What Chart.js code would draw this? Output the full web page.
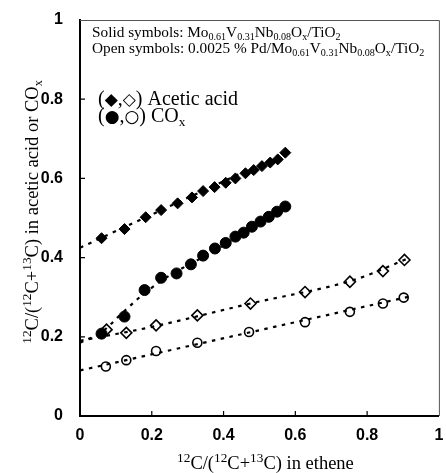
<!DOCTYPE html>
<html>
<head>
<meta charset="utf-8">
<script src="https://cdn.jsdelivr.net/npm/chart.js@4.4.1/dist/chart.umd.min.js"></script>
<style>
  html, body { margin: 0; padding: 0; background: #fff; }
  #wrap { width: 446px; height: 473px; }
</style>
</head>
<body>
<div id="wrap"><canvas id="isotope-chart"></canvas></div>
<script>
// 數據：估計值
const xTicks = [0, 0.2, 0.4, 0.6, 0.8, 1];
const yTicks = [0, 0.2, 0.4, 0.6, 0.8, 1];

// 實心符號：Mo0.61V0.31Nb0.08Ox/TiO2
const acidSolidX = [0.060, 0.124, 0.183, 0.226, 0.272, 0.312, 0.343, 0.375, 0.406, 0.433, 0.461, 0.484, 0.507, 0.530, 0.551, 0.572];
const acidSolidY = [0.449, 0.472, 0.502, 0.520, 0.537, 0.552, 0.568, 0.578, 0.589, 0.600, 0.613, 0.621, 0.631, 0.640, 0.648, 0.665];
const coxSolidX = [0.060, 0.124, 0.180, 0.226, 0.269, 0.309, 0.343, 0.376, 0.406, 0.433, 0.456, 0.479, 0.503, 0.526, 0.549, 0.572];
const coxSolidY = [0.208, 0.251, 0.318, 0.349, 0.360, 0.383, 0.405, 0.423, 0.437, 0.453, 0.463, 0.478, 0.491, 0.503, 0.516, 0.529];

// 空心符號：0.0025 % Pd/Mo0.61V0.31Nb0.08Ox/TiO2
const acidOpenX = [0.074, 0.129, 0.212, 0.327, 0.475, 0.627, 0.752, 0.844, 0.904];
const acidOpenY = [0.218, 0.210, 0.229, 0.254, 0.284, 0.313, 0.339, 0.366, 0.394];
const coxOpenX = [0.072, 0.129, 0.212, 0.327, 0.471, 0.627, 0.752, 0.844, 0.902];
const coxOpenY = [0.125, 0.141, 0.164, 0.185, 0.212, 0.237, 0.263, 0.284, 0.299];

// 趨勢虛線
const acidSolidFitX = [0, 0.58];
const acidSolidFitY = [0.425, 0.668];
const coxSolidFitX = [0, 0.06, 0.12, 0.18, 0.25, 0.35, 0.45, 0.58];
const coxSolidFitY = [0.185, 0.212, 0.262, 0.310, 0.355, 0.405, 0.458, 0.535];
const acidOpenFitX = [0, 0.2, 0.475, 0.75, 0.92];
const acidOpenFitY = [0.190, 0.225, 0.284, 0.340, 0.400];
const coxOpenFitX = [0, 0.92];
const coxOpenFitY = [0.115, 0.302];

const toPoints = (xs, ys) => xs.map((x, i) => ({ x: x, y: ys[i] }));

const SERIF = '"Liberation Serif", "Times New Roman", serif';
const SANS = '"Liberation Sans", Arial, sans-serif';
const SYM = '"DejaVu Sans", sans-serif';

// 繪製含上下標的文字
function fontFor(k, size) {
    if (k === 'sym') return (size * 0.85) + 'px ' + SYM;
    if (k === 'sub') return (size * 0.66) + 'px ' + SERIF;
    if (k === 'sup') return (size * 0.72) + 'px ' + SERIF;
    return size + 'px ' + SERIF;
}

function drawRich(ctx, parts, x, y, size, align) {
    const widths = parts.map(([t, k]) => {
        ctx.font = fontFor(k, size);
        return ctx.measureText(t).width;
    });
    const total = widths.reduce((a, b) => a + b, 0);
    let cx = align === 'center' ? x - total / 2 : x;
    ctx.textBaseline = 'alphabetic';
    ctx.textAlign = 'left';
    parts.forEach(([t, k], i) => {
        ctx.font = fontFor(k, size);
        const dy = k === 'sub' ? size * 0.22 : (k === 'sup' ? -size * 0.38 : 0);
        ctx.fillText(t, cx, y + dy);
        cx += widths[i];
    });
}

const decorPlugin = {
    id: 'decor',
    afterDraw(chart) {
        const { ctx, chartArea: a, scales } = chart;
        ctx.save();
        // 上、右框線
        ctx.strokeStyle = '#555';
        ctx.lineWidth = 1;
        ctx.beginPath();
        ctx.moveTo(a.left, a.top + 0.5);
        ctx.lineTo(a.right + 0.5, a.top + 0.5);
        ctx.lineTo(a.right + 0.5, a.bottom);
        ctx.stroke();
        // 朝內刻度
        ctx.strokeStyle = '#000';
        ctx.lineWidth = 1.2;
        ctx.beginPath();
        xTicks.slice(1, -1).forEach(v => {
            const px = scales.x.getPixelForValue(v);
            ctx.moveTo(px, a.bottom);
            ctx.lineTo(px, a.bottom - 5);
        });
        yTicks.slice(1, -1).forEach(v => {
            const py = scales.y.getPixelForValue(v);
            ctx.moveTo(a.left, py);
            ctx.lineTo(a.left + 5, py);
        });
        ctx.stroke();

        ctx.fillStyle = '#000';
        // 說明文字
        drawRich(ctx, [['Solid symbols: Mo', ''], ['0.61', 'sub'], ['V', ''], ['0.31', 'sub'], ['Nb', ''], ['0.08', 'sub'], ['O', ''], ['x', 'sub'], ['/TiO', ''], ['2', 'sub']], a.left + 12, 37, 15.3);
        drawRich(ctx, [['Open symbols: 0.0025 % Pd/Mo', ''], ['0.61', 'sub'], ['V', ''], ['0.31', 'sub'], ['Nb', ''], ['0.08', 'sub'], ['O', ''], ['x', 'sub'], ['/TiO', ''], ['2', 'sub']], a.left + 12, 53, 15.3);
        drawRich(ctx, [['(', ''], ['◆', 'sym'], [',', ''], ['◇', 'sym'], [') Acetic acid', '']], a.left + 18, 105, 20);
        drawRich(ctx, [['(', ''], ['●', 'sym'], [',', ''], ['○', 'sym'], [') CO', ''], ['x', 'sub']], a.left + 18, 122, 20);

        // 軸標題
        const xt = [['12', 'sup'], ['C/(', ''], ['12', 'sup'], ['C+', ''], ['13', 'sup'], ['C) in ethene', '']];
        drawRich(ctx, xt, (a.left + a.right) / 2 + 6, 469, 18.5, 'center');
        ctx.translate(38, 212);
        ctx.rotate(-Math.PI / 2);
        const yt = [['12', 'sup'], ['C/(', ''], ['12', 'sup'], ['C+', ''], ['13', 'sup'], ['C) in acetic acid or CO', ''], ['x', 'sub']];
        drawRich(ctx, yt, 0, 0, 18.5, 'center');
        ctx.restore();
    }
};

function pointSet(label, xs, ys, style, filled, radius) {
    return {
        label: label,
        data: toPoints(xs, ys),
        showLine: false,
        pointStyle: style,
        pointRadius: radius,
        pointBackgroundColor: filled ? '#000' : 'rgba(0,0,0,0)',
        pointBorderColor: '#000',
        pointBorderWidth: filled ? 1 : 1.6,
        order: 1
    };
}

function fitSet(label, xs, ys) {
    return {
        label: label,
        data: toPoints(xs, ys),
        showLine: true,
        borderColor: '#000',
        borderWidth: 2.2,
        borderDash: [3.5, 5.5],
        pointRadius: 0,
        tension: 0.35,
        fill: false,
        order: 2
    };
}

const canvas = document.getElementById('isotope-chart');
new Chart(canvas, {
    type: 'scatter',
    data: {
        datasets: [
            fitSet('acid solid fit', acidSolidFitX, acidSolidFitY),
            fitSet('COx solid fit', coxSolidFitX, coxSolidFitY),
            fitSet('acid open fit', acidOpenFitX, acidOpenFitY),
            fitSet('COx open fit', coxOpenFitX, coxOpenFitY),
            pointSet('Acetic acid (solid)', acidSolidX, acidSolidY, 'rectRot', true, 5.5),
            pointSet('COx (solid)', coxSolidX, coxSolidY, 'circle', true, 5.5),
            pointSet('Acetic acid (open)', acidOpenX, acidOpenY, 'rectRot', false, 5.5),
            pointSet('COx (open)', coxOpenX, coxOpenY, 'circle', false, 4.5)
        ]
    },
    options: {
        responsive: true,
        maintainAspectRatio: false,
        animation: false,
        layout: { padding: { top: 20, right: 4, left: 0, bottom: 0 } },
        plugins: {
            legend: { display: false },
            tooltip: { enabled: false }
        },
        scales: {
            x: {
                type: 'linear',
                min: 0,
                max: 1,
                afterBuildTicks: scale => { scale.ticks = xTicks.map(v => ({ value: v })); },
                afterFit: scale => {
                    scale.height = 57;
                    scale.paddingLeft = 0;
                    scale.paddingRight = 0;
                },
                grid: { display: true, drawOnChartArea: false, drawTicks: false },
                border: { display: true, color: '#000', width: 2 },
                ticks: {
                    color: '#000',
                    padding: 10,
                    maxRotation: 0,
                    font: { family: SANS, size: 16, weight: 'bold' },
                    callback: v => (v === 0 || v === 1) ? String(v) : v.toFixed(1)
                }
            },
            y: {
                type: 'linear',
                min: 0,
                max: 1,
                afterBuildTicks: scale => { scale.ticks = yTicks.map(v => ({ value: v })); },
                afterFit: scale => {
                    scale.width = 80;
                    scale.paddingTop = 0;
                    scale.paddingBottom = 0;
                },
                grid: { display: true, drawOnChartArea: false, drawTicks: false },
                border: { display: true, color: '#000', width: 2 },
                ticks: {
                    color: '#000',
                    padding: 17,
                    font: { family: SANS, size: 16, weight: 'bold' },
                    callback: v => (v === 0 || v === 1) ? String(v) : v.toFixed(1)
                }
            }
        }
    },
    plugins: [decorPlugin]
});
</script>
</body>
</html>
